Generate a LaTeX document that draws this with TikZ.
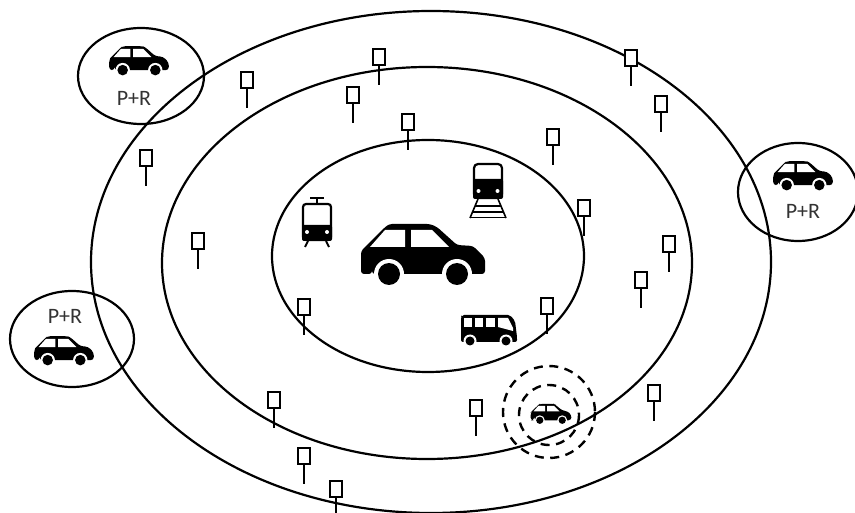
\documentclass[tikz,border=0pt]{standalone}
\usepackage{fontspec}
\setmainfont{Carlito}
\tikzset{
  ring/.style={draw=black, line width=2.2pt},
  wave/.style={draw=black, line width=2.4pt, dash pattern=on 9pt off 6.5pt},
  label/.style={font=\fontsize{22}{22}\selectfont, text=black!80, inner sep=0pt},
  car/.pic={
    \fill[black, rounded corners=3pt] (-51,19) -- (-62,19) -- (-62,-4) -- (-56,-10) -- (-40,-26)
      -- (-34,-31) -- (7,-31) -- (14,-28) -- (34,-10) -- (50,-9) -- (62,3) -- (62,19) -- (-51,19) -- cycle;
    \fill[white] (-53,-8) -- (-38,-25) -- (-18,-25) -- (-18,-8) -- cycle;
    \fill[white] (-12,-25) -- (9,-25) -- (26,-8) -- (-12,-8) -- cycle;
    \fill[white] (-34,19) circle (15);
    \fill[white] (34,19) circle (15);
    \fill[black] (-34,19) circle (11);
    \fill[black] (34,19) circle (11);
  },
  tram/.pic={
    \draw[line width=2.2pt, rounded corners=3pt, fill=white] (-14,-18) rectangle (14,18);
    \fill[black, rounded corners=2pt] (-15,3) rectangle (15,19);
    \fill[white] (-10,10) circle (2) (10,10) circle (2);
    \draw[line width=2pt] (-7,-24) -- (7,-24) (0,-24) -- (0,-18);
    \draw[line width=2pt] (-9,19) -- (-12,25) (9,19) -- (12,25);
  },
  train/.pic={
    \draw[line width=2.2pt, rounded corners=4pt, fill=white] (-14,-18) rectangle (14,16);
    \fill[black, rounded corners=2pt] (-15,-3) rectangle (15,17);
    \fill[white] (-9.5,9) circle (2) (9.5,9) circle (2);
    \draw[line width=1.6pt] (-10,17) -- (-18,36) (10,17) -- (18,36);
    \draw[line width=1.4pt] (-13,24) -- (13,24) (-15,30) -- (15,30) (-17,35.5) -- (17,35.5);
  },
  bus/.pic={
    \fill[black, rounded corners=2pt] (-27,-14) -- (21,-14) -- (26,-8) -- (28,8) -- (28,13) -- (-28,13) -- (-28,-12) -- cycle;
    \fill[white] (-25,-11) rectangle (-17,-2);
    \fill[white] (-14,-11) rectangle (-6,-2);
    \fill[white] (-3,-11) rectangle (6,-2);
    \fill[white] (9,-11) -- (19,-11) -- (24,-1) -- (24,2) -- (9,-2) -- cycle;
    \fill[white] (-19,12) circle (6.5) (17,12) circle (6.5);
    \fill[black] (-19,12) circle (4.5) (17,12) circle (4.5);
  },
  stopsign/.pic={
    \draw[line width=2.1pt, fill=white] (-6,-8) rectangle (6,8);
    \draw[line width=2.1pt] (0,8) -- (0,28);
  },
}
\begin{document}
\begin{tikzpicture}[x=1pt, y=-1pt]
  \useasboundingbox (0,0) rectangle (855,513);
  \fill[white] (0,0) rectangle (855,513);
  % zones
  \draw[ring] (431,262) ellipse [x radius=340, y radius=251];
  \draw[ring] (427,263) ellipse [x radius=265, y radius=196];
  \draw[ring] (428,256) ellipse [x radius=156, y radius=116];
  % park and ride
  \draw[ring] (141,76) ellipse [x radius=63, y radius=48];
  \draw[ring] (798,192) ellipse [x radius=60, y radius=49];
  \draw[ring] (72,339) ellipse [x radius=62, y radius=48];
  \node[label] (prtop) at (134,98) {P+R};
  \node[label] (prright) at (803,211) {P+R};
  \node[label] (prleft) at (65,316) {P+R};
  % stops
  \foreach \sx/\sy in {379/57, 247/80, 353/95, 146/158, 408/122, 553/137, 631/58, 661/104,
    584/208, 669/244, 641/280, 547/306, 198/241, 304/307, 654/393, 476/408, 274/400, 304/456, 336/489}
    \pic at (\sx,\sy) {stopsign};
  % vehicles
  \pic at (423,255) {car};
  \pic[scale=.48] at (139,61) {car};
  \pic[scale=.48] at (803,176) {car};
  \pic[scale=.48] at (64,351) {car};
  \pic at (317,222) {tram};
  \pic at (488,182) {train};
  \pic at (489,329) {bus};
  % car on the move
  \pic[scale=.33] at (551,414) {car};
  \draw[wave] (549,412) circle (46);
  \draw[wave] (549,415) circle (30);
\end{tikzpicture}
\end{document}
